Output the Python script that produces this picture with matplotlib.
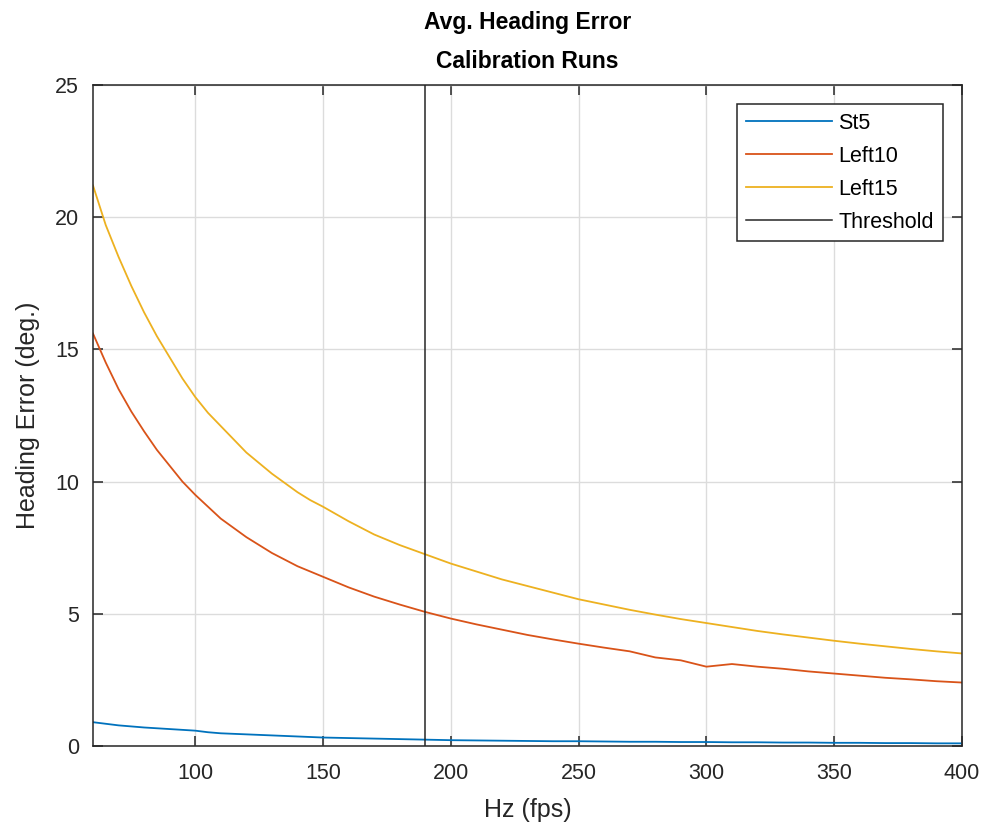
import numpy as np
import matplotlib.pyplot as plt

plt.rcParams['font.family'] = ['Liberation Sans', 'DejaVu Sans']

# frame rates (Hz): every 5 up to 150, then every 10
hz = list(range(60, 150, 5)) + list(range(150, 401, 10))

st5 = [0.90, 0.84, 0.78, 0.74, 0.70, 0.67, 0.64, 0.61, 0.58, 0.52,
       0.48, 0.46, 0.44, 0.42, 0.40, 0.38, 0.36, 0.34,
       0.32, 0.30, 0.28, 0.26, 0.24, 0.22, 0.21, 0.20, 0.19, 0.18,
       0.18, 0.17, 0.16, 0.16, 0.15, 0.15, 0.14, 0.14, 0.13, 0.13,
       0.12, 0.12, 0.11, 0.11, 0.10, 0.10]

left10 = [15.6, 14.5, 13.5, 12.65, 11.9, 11.2, 10.6, 10.0, 9.5, 9.05,
          8.6, 8.25, 7.9, 7.6, 7.3, 7.05, 6.8, 6.6,
          6.4, 6.0, 5.65, 5.35, 5.07, 4.82, 4.6, 4.4, 4.2, 4.03,
          3.87, 3.72, 3.58, 3.35, 3.24, 3.0, 3.1, 3.0, 2.92, 2.82,
          2.74, 2.66, 2.58, 2.52, 2.45, 2.4]

left15 = [21.2, 19.7, 18.5, 17.4, 16.4, 15.5, 14.7, 13.9, 13.2, 12.6,
          12.1, 11.6, 11.1, 10.7, 10.3, 9.95, 9.6, 9.3,
          9.05, 8.5, 8.0, 7.6, 7.25, 6.9, 6.6, 6.3, 6.05, 5.8,
          5.55, 5.35, 5.15, 4.97, 4.8, 4.65, 4.5, 4.35, 4.22, 4.1,
          3.98, 3.87, 3.77, 3.67, 3.58, 3.5]

threshold = 190

dark = '#262626'

fig = plt.figure(figsize=(9.85, 8.35), dpi=100)
ax = fig.add_axes([0.0944, 0.1066, 0.8822, 0.7916])

ax.plot(hz, st5, color='#0072BD', lw=1.3, label='St5')
ax.plot(hz, left10, color='#D95319', lw=1.3, label='Left10')
ax.plot(hz, left15, color='#EDB120', lw=1.3, label='Left15')
ax.axvline(threshold, color=dark, lw=1.1, label='Threshold')

ax.set_xlim(60, 400)
ax.set_ylim(0, 25)
ax.set_xticks(range(100, 401, 50))
ax.set_yticks(range(0, 26, 5))

ax.grid(True, color='#dcdcdc', lw=1.0)
ax.tick_params(direction='in', top=True, right=True, labelsize=15.5,
               colors=dark, length=7, width=1.1)
ax.tick_params(axis='x', pad=12)
ax.tick_params(axis='y', pad=10)
for s in ax.spines.values():
    s.set_color(dark)
    s.set_linewidth(1.1)

ax.set_xlabel('Hz (fps)', fontsize=18, color=dark, labelpad=10)
ax.set_ylabel('Heading Error (deg.)', fontsize=18, color=dark, labelpad=11)
ax.set_title('Avg. Heading Error\nCalibration Runs', fontsize=16.5,
             fontweight='bold', pad=12, linespacing=1.9)

leg = ax.legend(loc='upper right', fontsize=15.5, fancybox=False,
                edgecolor=dark, framealpha=1, handlelength=4.0,
                borderaxespad=0.9, labelspacing=0.55, handletextpad=0.3,
                borderpad=0.4)
leg.get_frame().set_linewidth(1.1)

fig.savefig('out.png', dpi=100)
